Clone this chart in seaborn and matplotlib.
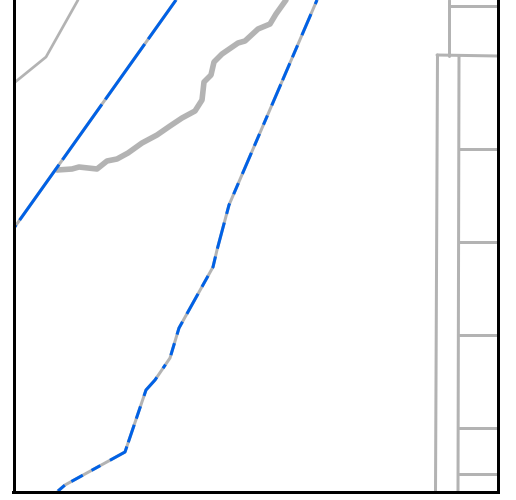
import matplotlib
matplotlib.use("Agg")
import matplotlib.pyplot as plt
import pandas as pd
import seaborn as sns

# everything, in image pixels
thin_x = [14, 46, 78]
thin_y = [83, 57, 0]

river_x = [57, 72, 79, 97, 107, 117, 128, 142, 157, 170, 182, 195, 202, 204, 211, 214, 222, 238, 245, 258, 270, 276, 286]
river_y = [170, 169, 167, 169, 161, 159, 153, 143, 135, 126, 118, 111, 100, 82, 75, 62, 54, 43, 41, 29, 24, 14, 0]

rail1_x = [176, 149, 14]
rail1_y = [0, 38, 228]

rail2_x = [317, 229, 225, 217, 213, 179, 170, 155, 146, 125, 65, 58]
rail2_y = [0, 205, 220, 250, 267, 328, 358, 380, 390, 452, 485, 491]

# right hand blocks: (x0, y0, x1, y1)
block_x0 = [449, 449, 437, 437.5, 459, 459, 459, 459, 459, 459]
block_y0 = [0, 6, 55, 55, 56, 149, 242, 335, 428, 474]
block_x1 = [449, 498, 498, 435.5, 458, 498, 498, 498, 498, 498]
block_y1 = [56, 6, 56, 491, 491, 149, 242, 335, 428, 474]

GREY = "#b3b3b3"
BLUE = "#0061e6"
PX = 0.72  # points per pixel at dpi 100

plt.rcParams["lines.scale_dashes"] = False
sns.set_style("white")

fig = plt.figure(figsize=(5.16, 5.0), dpi=100)
ax = fig.add_axes([13.5 / 516, 8 / 500, 484.5 / 516, 492 / 500])


def draw(x, y, color, width, **kws):
    df = pd.DataFrame({"x": x, "y": y})
    sns.lineplot(data=df, x="x", y="y", sort=False, estimator=None, color=color,
                 linewidth=width * PX, ax=ax, legend=False, **kws)


draw(thin_x, thin_y, GREY, 2.7)
draw(river_x, river_y, GREY, 5.6)

for i in range(len(block_x0)):
    draw([block_x0[i], block_x1[i]], [block_y0[i], block_y1[i]], GREY, 3)

# railways: grey base with blue dashes on top
draw(rail1_x, rail1_y, GREY, 3)
rail1_dash = [68 * PX, 6 * PX]
draw(rail1_x, rail1_y, BLUE, 3, linestyle=(20 * PX, rail1_dash))

draw(rail2_x, rail2_y, GREY, 3)
rail2_dash = [4.4, 10.9, 23, 11, 13, 6.5, 18.5, 4.4, 23, 11, 10, 10, 13, 7.6, 23, 10,
              12, 10, 11, 9, 27, 8, 12, 9, 12.5, 8, 23, 9, 14, 9, 12.5, 11, 22, 10,
              10, 10.5, 12.6, 7, 24, 7.5, 12.7, 9, 12.4, 9.5, 22, 20]
draw(rail2_x, rail2_y, BLUE, 3, linestyle=(0, [d * PX for d in rail2_dash]))

ax.set_xlim(13.5, 498)
ax.set_ylim(492, 0)
ax.set_xticks([])
ax.set_yticks([])
ax.set_xlabel("")
ax.set_ylabel("")
ax.spines["top"].set_visible(False)
for side in ["left", "bottom", "right"]:
    ax.spines[side].set_color("black")
    ax.spines[side].set_linewidth(3 * PX)

fig.savefig("out.png", dpi=100)
